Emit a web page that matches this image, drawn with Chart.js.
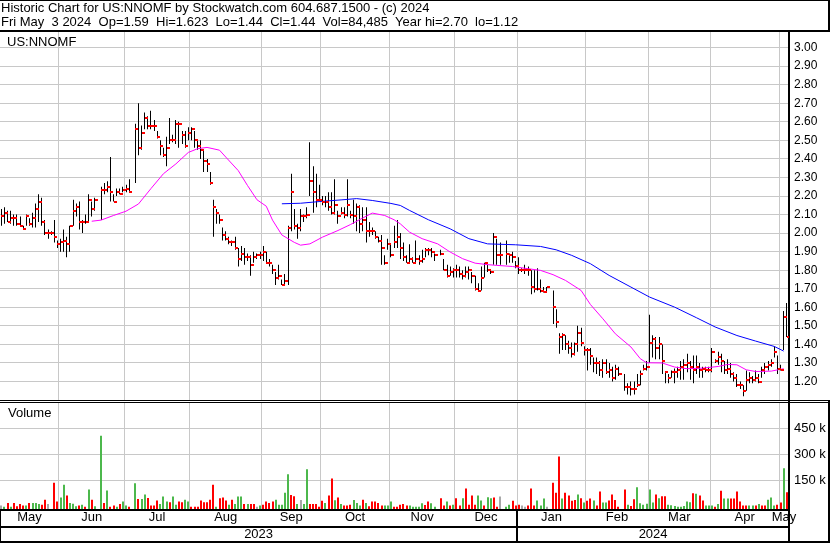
<!DOCTYPE html>
<html>
<head>
<meta charset="utf-8">
<title>US:NNOMF historic chart</title>
<script src="https://cdn.jsdelivr.net/npm/chart.js@4.4.1/dist/chart.umd.min.js"></script>
<style>
  body { margin: 0; background: #fff; }
  #page { position: relative; width: 830px; height: 543px; overflow: hidden; font-family: "Liberation Sans", Arial, sans-serif; color: #000; }
  #head { position: absolute; left: 0; top: 0; width: 830px; height: 32px; box-sizing: border-box; border-top: 1px solid #000; border-bottom: 2px solid #000; border-right: 2px solid #000; background: #fff; z-index: 2; }
  .txt { position: absolute; font-size: 13px; line-height: 15px; white-space: pre; z-index: 3; }
  canvas { position: absolute; left: 0; }
</style>
</head>
<body>
<div id="page">
  <canvas id="price" width="830" height="400" style="top:0"></canvas>
  <canvas id="volume" width="830" height="143" style="top:400px"></canvas>
  <div id="head"></div>
  <div class="txt" style="left:1px;top:0px">Historic Chart for US:NNOMF by Stockwatch.com 604.687.1500 - (c) 2024</div>
  <div class="txt" style="left:1px;top:14px">Fri May  3 2024  Op=1.59  Hi=1.623  Lo=1.44  Cl=1.44  Vol=84,485  Year hi=2.70  lo=1.12</div>
  <div class="txt" style="left:7px;top:34px">US:NNOMF</div>
  <div class="txt" style="left:8px;top:405px">Volume</div>
</div>
<script>
// one slot per trading day, May 4 2023 .. May 3 2024 (null = no trade)
const hi = [
  2.13,2.14,2.12,2.12,2.10,2.10,2.09,2.04,2.10,2.08,2.11,2.16,2.21,2.19,2.07,2.02,2.01,2.07,1.96,
  1.97,2.02,1.98,2.04,2.18,2.16,2.17,2.07,2.10,2.21,2.17,2.19,null,2.25,2.27,2.28,2.41,2.21,2.24,2.24,2.25,
  2.26,2.29,null,2.59,2.70,2.58,2.65,2.63,2.66,2.61,2.55,2.50,2.46,2.52,2.62,2.53,2.61,2.60,2.55,2.55,2.57,
  2.57,2.55,2.50,2.50,2.45,2.40,2.33,2.18,2.13,2.10,2.03,2.01,1.98,1.96,1.98,1.92,1.93,1.92,1.89,1.88,1.90,1.89,1.90,
  1.93,1.90,1.86,1.83,1.79,1.83,1.75,1.78,2.04,2.32,2.13,2.05,2.13,2.10,2.14,2.49,2.36,2.32,2.26,
  2.20,2.20,2.22,2.22,2.29,2.12,2.14,2.14,2.29,2.12,2.18,2.16,2.15,2.14,2.14,2.06,2.03,2.01,1.98,1.99,1.88,1.97,
  1.94,2.04,2.07,2.00,1.95,1.88,1.94,1.87,1.96,1.88,1.91,1.92,1.92,1.92,1.89,null,1.91,1.86,1.83,1.82,1.81,
  1.83,1.82,1.80,1.82,1.82,1.79,1.77,1.73,1.82,1.84,1.83,1.80,2.00,1.97,1.95,null,1.96,1.89,1.90,1.85,
  1.87,1.81,1.83,1.82,1.80,1.80,1.81,1.75,1.71,1.71,null,1.69,1.59,1.46,1.46,1.45,1.42,1.41,1.41,1.50,1.49,1.39,
  1.38,1.38,1.33,1.33,1.31,1.32,1.32,1.30,1.28,1.29,1.28,null,1.24,1.19,1.20,1.20,1.24,1.26,1.29,1.31,
  1.56,1.45,1.44,1.44,1.40,1.25,1.24,1.26,1.27,1.28,1.31,1.32,1.35,1.31,1.34,1.34,1.30,1.28,1.28,1.28,
  1.38,1.32,1.36,1.35,1.31,1.32,1.30,1.25,1.24,1.20,1.18,1.26,1.25,1.23,1.26,1.24,1.28,1.30,1.31,1.32,1.39,1.34,
  1.29,1.58,1.623
];
const lo = [
  2.04,2.05,2.06,2.05,2.04,2.04,2.04,2.02,2.04,2.04,2.03,2.03,2.06,2.04,1.99,1.97,1.99,1.95,1.92,
  1.90,1.90,1.87,1.90,2.04,2.09,2.02,2.00,2.05,2.06,2.09,2.12,null,2.07,2.21,2.22,2.17,2.17,2.20,2.21,2.22,
  2.22,2.22,null,2.27,2.42,2.45,2.56,2.56,2.56,2.55,2.51,2.42,2.41,2.36,2.48,2.49,2.48,2.46,2.48,2.46,2.50,
  2.50,2.46,2.45,2.40,2.33,2.33,2.26,1.98,2.05,2.05,1.96,1.96,1.94,1.93,1.91,1.82,1.85,1.83,1.85,1.77,1.84,1.86,1.86,
  1.85,1.84,1.82,1.78,1.72,1.75,1.72,1.72,1.72,2.01,2.02,1.97,2.01,2.06,2.08,2.20,2.11,2.14,2.17,
  2.15,2.14,2.12,2.10,2.10,2.05,2.10,2.08,2.09,2.08,2.05,2.01,2.00,2.01,1.95,1.98,1.99,1.97,1.95,1.83,1.83,1.91,
  1.87,1.92,1.92,1.86,1.85,1.84,1.84,1.84,1.84,1.83,1.84,1.87,1.88,1.87,1.85,null,1.88,1.80,1.76,1.77,1.76,
  1.76,1.76,1.75,1.76,1.75,1.73,1.69,1.69,1.69,1.76,1.79,1.78,1.83,1.83,1.83,null,1.83,1.84,1.84,1.81,
  1.78,1.79,1.78,1.77,1.67,1.68,1.69,1.68,1.68,1.68,null,1.51,1.49,1.35,1.37,1.37,1.35,1.33,1.34,1.36,1.39,1.34,
  1.26,1.29,1.25,1.24,1.23,1.22,1.24,1.22,1.20,1.21,1.23,null,1.15,1.13,1.125,1.13,1.17,1.18,1.26,1.26,
  1.30,1.33,1.32,1.32,1.24,1.19,1.19,1.22,1.19,1.22,1.21,1.21,1.25,1.21,1.19,1.24,1.22,1.22,1.25,1.25,
  1.25,1.30,1.29,1.25,1.24,1.24,1.22,1.20,1.17,1.16,1.12,1.15,1.19,1.19,1.20,1.19,1.22,1.24,1.26,1.28,1.33,1.24,
  1.26,1.37,1.44
];
const cl = [
  2.09,2.11,2.06,2.08,2.08,2.05,2.04,2.02,2.09,2.05,2.08,2.13,2.17,2.06,2.00,2.00,2.00,1.98,1.94,
  1.95,1.96,1.94,2.04,2.12,2.14,2.06,2.06,2.06,2.18,2.13,2.18,null,2.23,2.23,2.25,2.22,2.17,2.22,2.21,2.23,
  2.24,2.22,null,2.56,2.46,2.54,2.62,2.58,2.58,2.58,2.52,2.47,2.42,2.46,2.50,2.50,2.59,2.59,2.53,2.47,2.54,
  2.56,2.50,2.47,2.45,2.39,2.37,2.27,2.14,2.11,2.07,1.99,1.97,1.95,1.95,1.92,1.86,1.89,1.87,1.87,1.83,1.87,1.88,1.88,
  1.90,1.84,1.84,1.80,1.76,1.77,1.72,1.74,2.03,2.22,2.04,2.03,2.09,2.09,2.10,2.28,2.22,2.18,2.18,
  2.17,2.17,2.14,2.11,2.15,2.09,2.11,2.10,2.15,2.10,2.09,2.14,2.05,2.07,2.01,2.01,2.01,1.98,1.96,1.92,1.84,1.94,
  1.88,1.95,1.98,1.92,1.87,1.84,1.86,1.84,1.86,1.85,1.86,1.91,1.91,1.90,1.88,null,1.89,1.80,1.77,1.79,1.80,
  1.80,1.78,1.77,1.79,1.80,1.77,1.70,1.69,1.76,1.84,1.80,1.79,1.98,1.88,1.88,null,1.89,1.88,1.87,1.82,
  1.80,1.80,1.80,1.80,1.71,1.70,1.70,1.69,1.68,1.71,null,1.60,1.52,1.44,1.45,1.40,1.38,1.35,1.40,1.46,1.41,1.37,
  1.37,1.34,1.30,1.30,1.26,1.30,1.25,1.26,1.22,1.27,1.24,null,1.17,1.17,1.16,1.16,1.18,1.24,1.27,1.28,
  1.41,1.43,1.38,1.40,1.31,1.25,1.22,1.25,1.25,1.26,1.28,1.29,1.30,1.28,1.26,1.28,1.26,1.27,1.26,1.26,
  1.36,1.31,1.33,1.31,1.26,1.27,1.24,1.22,1.18,1.18,1.15,1.21,1.22,1.21,1.22,1.20,1.26,1.28,1.29,1.30,1.36,1.27,
  1.26,1.55,1.44
];
// volume in thousands of shares
const volK = [
  8,2,23,2,23,4,17,8,8,23,23,23,17,13,42,17,null,138,31,
  54,127,65,23,19,4,8,13,2,100,42,4,null,406,23,94,2,8,2,17,31,
  8,1,null,135,46,46,71,52,8,8,37,17,60,31,27,60,13,31,27,42,31,
  2,1,1,37,27,27,42,127,2,50,54,37,13,42,17,60,60,17,17,17,17,2,8,
  13,31,23,31,42,13,13,81,187,69,62,17,40,17,215,17,17,17,1,
  35,23,65,162,38,54,17,8,8,13,40,23,8,42,23,4,31,31,23,8,8,8,
  31,2,2,13,17,8,8,2,1,2,21,12,31,21,2,null,50,8,31,8,13,
  50,8,50,106,13,65,13,65,37,8,56,50,54,1,60,null,2,13,35,8,
  13,8,2,8,106,8,37,8,48,2,null,138,81,288,48,81,65,35,40,71,50,25,
  35,48,37,8,88,25,25,37,71,40,2,null,100,13,6,44,113,21,13,19,
  100,25,71,50,62,62,13,10,6,2,2,6,31,27,79,75,65,37,8,8,
  8,2,17,92,48,48,48,48,88,31,8,8,8,8,8,17,8,8,42,54,8,13,
  25,221,84.5
];
// u = up day, d = down day, n = unchanged
const dir = (
  'n u d u d d d d u d u u u d d n n d d ' +
  'u u d u u u d u d u d u n u d u d d u d u ' +
  'u d n u d u u d d d d u u u d u u d d u u ' +
  'd d d d d d d d u d d d u d u u u d u d d n u ' +
  'd d d d u u u u u d d u n u u d d d d ' +
  'd u d d u d u d d d u u u d u d d d d d u u ' +
  'u d d d d d u u u u u d d u u n d d u d u ' +
  'd d u d d d d u u d u u d d n n u u d d ' +
  'd n n d d d u u u n n d d d u d d d d u d u ' +
  'd d u d d u u d d d d n d u d d u u u u ' +
  'u u d u d d u u u u u u u u d u d d u u ' +
  'u d u d u u d d d d d d u u d u d d u u u d ' +
  'd u d').split(' ');

// moving averages at a few trading-day slots
const maShortAt = [29,32,36,40,44,48,52,56,60,63,66,70,72,76,79,82,85,87,90,94,96,99,103,108,112,116,119,123,126,128,131,135,140,144,148,152,156,159,164,169,173,177,181,186,189,193,197,202,205,207,212,216,220,225,230,233,236,239,242,247,251];
const maShort = [2.064,2.07,2.095,2.118,2.157,2.24,2.32,2.373,2.435,2.455,2.462,2.447,2.41,2.337,2.256,2.18,2.145,2.07,1.99,1.95,1.935,1.942,1.978,2.014,2.046,2.082,2.108,2.095,2.072,2.05,2.005,1.97,1.942,1.898,1.862,1.838,1.83,1.826,1.82,1.808,1.799,1.776,1.745,1.691,1.615,1.538,1.457,1.386,1.323,1.301,1.30,1.278,1.269,1.272,1.281,1.292,1.29,1.263,1.254,1.256,1.269];
const maLongAt = [90,96,102,109,114,119,125,128,131,137,144,150,156,165,173,178,183,189,195,202,208,216,223,229,236,242,248,251];
const maLong = [2.158,2.161,2.17,2.179,2.186,2.176,2.16,2.149,2.122,2.072,2.023,1.97,1.942,1.937,1.928,1.91,1.88,1.835,1.772,1.709,1.655,1.601,1.544,1.494,1.448,1.418,1.389,1.364];

// first slot of each month from June 2023 on
const monthStart = [19, 40, 61, 84, 103, 125, 146, 166, 188, 208, 228, 250];
const monthNames = ['May','Jun','Jul','Aug','Sep','Oct','Nov','Dec','Jan','Feb','Mar','Apr','May'];
const yearNames = ['2023', '2024'];
const yearStart = 166;
const priceTicks = [1.2,1.3,1.4,1.5,1.6,1.7,1.8,1.9,2.0,2.1,2.2,2.3,2.4,2.5,2.6,2.7,2.8,2.9,3.0];
const volTicks = [150000, 300000, 450000];

const X_MIN = -0.429, X_MAX = 252.708;
const GRID = '#c8c8c8';
const FONT = '"Liberation Sans", Arial, sans-serif';
const dirColor = { u: '#4cb84c', d: '#ff0000', n: '#a8a8a8' };

Chart.defaults.font.family = FONT;
Chart.defaults.color = '#000';

const monthGrid = monthStart.map(m => m - 0.5);
const bounds = [X_MIN].concat(monthGrid, [X_MAX]);
const monthMid = monthNames.map((_, k) => (bounds[k] + bounds[k + 1]) / 2);
const yearMid = [(X_MIN + yearStart - 0.5) / 2, (yearStart - 0.5 + X_MAX) / 2];

var hlData = [], closeData = [], volData = [], volColors = [];
hi.forEach(function (h, i) {
    if (h == null) return;
    hlData.push({ x: i, y: [lo[i], h] });
    closeData.push({ x: i + 0.5, y: cl[i] });
});
volK.forEach(function (v, i) {
    if (v == null) return;
    volData.push({ x: i, y: v * 1000 });
    volColors.push(dirColor[dir[i]]);
});
const shortData = maShortAt.map((i, k) => ({ x: i, y: maShort[k] }));
const longData = maLongAt.map((i, k) => ({ x: i, y: maLong[k] }));

// little red close tick
const closeMark = document.createElement('canvas');
closeMark.width = 3; closeMark.height = 2;
closeMark.getContext('2d').fillStyle = '#ff0000';
closeMark.getContext('2d').fillRect(0, 0, 3, 2);

// keep thin bars on whole pixels so they stay crisp
const snapBars = {
    id: 'snapBars',
    beforeDatasetsDraw(chart) {
        chart.ctx.imageSmoothingEnabled = false;
        chart.data.datasets.forEach(function (ds, k) {
            var meta = chart.getDatasetMeta(k);
            if (meta.type !== 'bar') return;
            meta.data.forEach(function (el) {
                el.x = (Math.round(el.width) % 2) ? Math.floor(el.x) + 0.5 : Math.round(el.x);
            });
        });
    },
    afterDatasetsDraw(chart) { chart.ctx.imageSmoothingEnabled = true; }
};

// fixed box sizes, no extra room asked for the end labels
function fixBox(w, h) {
    return function (s) {
        if (w != null) s.width = w;
        if (h != null) s.height = h;
        s.paddingTop = s.paddingBottom = s.paddingLeft = s.paddingRight = 0;
    };
}

function dateAxis(extra) {
    return Object.assign({
        type: 'linear', axis: 'x', position: 'bottom', min: X_MIN, max: X_MAX, bounds: 'data',
        offset: false, grid: { display: false, drawTicks: false, offset: false }, border: { display: false }
    }, extra);
}

new Chart(document.getElementById('price'), {
    type: 'bar',
    data: {
        datasets: [
            { type: 'line', data: closeData, showLine: false, pointStyle: closeMark, pointRadius: 1, pointHoverRadius: 1, order: 0 },
            { type: 'line', data: shortData, borderColor: '#ff00ff', borderWidth: 1, pointRadius: 0, fill: false, order: 1 },
            { type: 'line', data: longData, borderColor: '#0000ff', borderWidth: 1, pointRadius: 0, fill: false, order: 1 },
            { type: 'bar', data: hlData, backgroundColor: '#000', barThickness: 1, grouped: false, inflateAmount: 0, order: 3 }
        ]
    },
    options: {
        responsive: false, animation: false, devicePixelRatio: 1, events: [],
        layout: { autoPadding: false, padding: { top: 32, left: 0, right: 0, bottom: 0 } },
        plugins: { legend: { display: false }, tooltip: { enabled: false } },
        scales: {
            x: dateAxis({
                grid: { color: GRID, drawTicks: false, offset: false },
                ticks: { display: false },
                afterBuildTicks: s => { s.ticks = monthGrid.map(v => ({ value: v })); },
                afterFit: fixBox(null, 0)
            }),
            y: {
                position: 'right', min: 1.1003, max: 3.0841, bounds: 'data',
                grid: { color: GRID, drawTicks: false },
                border: { color: '#000', width: 2 },
                ticks: { padding: 5, font: { size: 12 }, callback: v => v.toFixed(2) },
                afterBuildTicks: s => { s.ticks = priceTicks.map(v => ({ value: v })); },
                afterFit: fixBox(41, null)
            }
        }
    },
    plugins: [snapBars]
});

const frame = {
    id: 'frame',
    afterDraw(chart) {
        var ctx = chart.ctx, a = chart.chartArea, w = chart.width, h = chart.height;
        var split = Math.round(chart.scales.x.getPixelForValue(yearStart - 0.5));
        ctx.save();
        ctx.fillStyle = '#000';
        ctx.fillRect(0, 0, w, 1);                 // double rule under the prices
        ctx.fillRect(0, 2, w, 1);
        ctx.fillRect(0, a.bottom, a.right, 2);    // base line of the volume panel
        ctx.fillRect(0, chart.scales.xy.top, a.right, 2);
        ctx.fillRect(0, h - 2, w, 2);
        ctx.fillRect(a.right - 1, a.top, 2, h - a.top);
        ctx.fillRect(w - 2, 0, 2, h);
        ctx.fillRect(0, a.bottom, 1, h - a.bottom);
        ctx.fillRect(split - 1, a.bottom, 2, h - a.bottom);
        ctx.restore();
    }
};

new Chart(document.getElementById('volume'), {
    type: 'bar',
    data: {
        datasets: [{
            data: volData, backgroundColor: volColors, barThickness: 2, grouped: false,
            inflateAmount: 0, base: -11400, xAxisID: 'x', yAxisID: 'y'
        }]
    },
    options: {
        responsive: false, animation: false, devicePixelRatio: 1, events: [],
        layout: { autoPadding: false, padding: { top: 2, left: 0, right: 0, bottom: 0 } },
        plugins: { legend: { display: false }, tooltip: { enabled: false } },
        scales: {
            x: dateAxis({
                weight: 0,
                grid: { color: GRID, drawTicks: false, offset: false },
                ticks: { display: false },
                afterBuildTicks: s => { s.ticks = monthGrid.map(v => ({ value: v })); },
                afterFit: fixBox(null, 2)
            }),
            xm: dateAxis({
                weight: 1,
                ticks: { autoSkip: false, maxRotation: 0, padding: 0, font: { size: 13, lineHeight: 1 }, callback: (v, i) => monthNames[i] },
                afterBuildTicks: s => { s.ticks = monthMid.map(v => ({ value: v })); },
                afterFit: fixBox(null, 15)
            }),
            xy: dateAxis({
                weight: 2,
                ticks: { autoSkip: false, maxRotation: 0, padding: 2, font: { size: 13, lineHeight: 1 }, callback: (v, i) => yearNames[i] },
                afterBuildTicks: s => { s.ticks = yearMid.map(v => ({ value: v })); },
                afterFit: fixBox(null, 17)
            }),
            y: {
                position: 'right', min: -11400, max: 598900, bounds: 'data',
                grid: { color: GRID, drawTicks: false },
                border: { color: '#000', width: 2 },
                ticks: { padding: 5, font: { size: 13 }, callback: v => (v / 1000) + ' k' },
                afterBuildTicks: s => { s.ticks = volTicks.map(v => ({ value: v })); },
                afterFit: fixBox(41, null)
            }
        }
    },
    plugins: [snapBars, frame]
});
</script>
</body>
</html>
